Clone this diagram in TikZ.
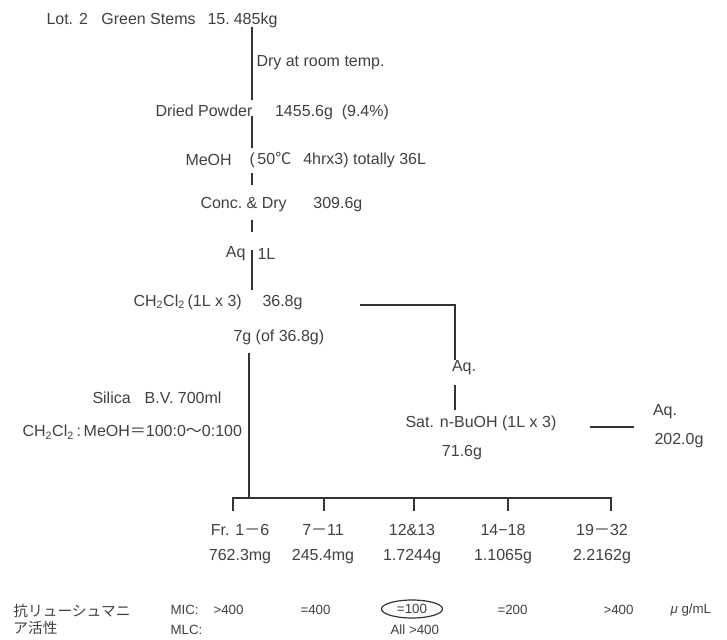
\documentclass[tikz,border=0pt]{standalone}
\usepackage{fontspec}
\setmainfont{Liberation Sans}
\newfontfamily\jpfont{Noto Sans CJK JP}
\usetikzlibrary{shapes.geometric}

\tikzset{every picture/.style={line width=0.75pt}}
\tikzset{
txt/.style={inner sep=0pt, text=black!75, font=\fontsize{12}{14}\selectfont},
small/.style={inner sep=0pt, text=black!75, font=\fontsize{10}{12}\selectfont},
flow/.style={draw=black!80, line width=1.2pt},
tick/.style={draw=black!80, line width=1.2pt}}

\begin{document}
\begin{tikzpicture}[x=0.75pt,y=0.75pt,yscale=-1,xscale=1]
\useasboundingbox (0,0) rectangle (727,639);

% Text Node
\node (lot) [txt, anchor=west] at (46,20) {Lot. 2\hspace{10pt}Green Stems\hspace{9pt}15.\hspace{3pt}485kg};
% Text Node
\node (dry) [txt, anchor=west] at (256,63) {Dry at room temp.};
% Text Node
\node (powder) [txt, anchor=west] at (155,112) {Dried Powder\hspace{17pt}1455.6g\ \ (9.4\%)};
% Text Node
\node (meoh) [txt, anchor=west] at (185,160) {MeOH};
% Text Node
\node (meohcond) [txt, anchor=west] at (249,160) {(\,50{\jpfont ℃}\hspace{9pt}4hrx3)\ totally 36L};
% Text Node
\node (conc) [txt, anchor=west] at (200,205) {Conc.\ \&\ Dry\hspace{20pt}309.6g};
% Text Node
\node (aq) [txt, anchor=east] at (246,254) {Aq};
% Text Node
\node (aqvol) [txt, anchor=west] at (257,254) {1L};
% Text Node
\node (dcm) [txt, anchor=west] at (133,302) {CH\textsubscript{2}Cl\textsubscript{2}\,(1L x 3)};
% Text Node
\node (dcmm) [txt, anchor=west] at (262,303) {36.8g};
% Text Node
\node (part) [txt, anchor=west] at (233,337) {7g (of 36.8g)};
% Text Node
\node (silica) [txt, anchor=west] at (92,398) {Silica\hspace{10.5pt}B.V. 700ml};
% Text Node
\node (eluent) [txt, anchor=west] at (22,432) {CH\textsubscript{2}Cl\textsubscript{2}\,:\,MeOH{\jpfont ＝}100:0{\jpfont ～}0:100};
% Text Node
\node (aqa) [txt] at (464,368) {Aq.};
% Text Node
\node (buoh) [txt, anchor=west] at (405,423) {Sat. n-BuOH (1L x 3)};
% Text Node
\node (buohm) [txt] at (462,453) {71.6g};
% Text Node
\node (aqb) [txt] at (665,412) {Aq.};
% Text Node
\node (aqbm) [txt] at (679,441) {202.0g};

% spine
\coordinate (s1) at (252,27);
\coordinate (s2) at (252,100);
\coordinate (s3) at (252,116);
\coordinate (s4) at (252,148);
\coordinate (s5) at (252,173);
\coordinate (s6) at (252,185);
\coordinate (s7) at (252,220);
\coordinate (s8) at (252,232);
\coordinate (s9) at (252,250);
\coordinate (s10) at (252,290);
\coordinate (s11) at (249,353);
\coordinate (s12) at (249,498);
%Straight Lines
\draw [flow] (s1) -- (s2);
\draw [flow] (s3) -- (s4);
\draw [flow] (s5) -- (s6);
\draw [flow] (s7) -- (s8);
\draw [flow] (s9) -- (s10);
\draw [flow] (s11) -- (s12);

% aqueous branch
\coordinate (b1) at (360,305);
\coordinate (b2) at (455,305);
\coordinate (b3) at (455,385);
\coordinate (b4) at (455,410);
\coordinate (b5) at (590,427);
\coordinate (b6) at (634,427);
\draw [flow] (b1) -- (b2) -- (aqa.north -| b2);
\draw [flow] (b3) -- (b4);
\draw [flow] (b5) -- (b6);

% fraction bar
\coordinate (barl) at (233,498);
\coordinate (barr) at (611,498);
\draw [flow] (barl) -- (barr);

\foreach \x/\fr/\wt [count=\i] in {240/Fr. 1{\jpfont －}6/762.3mg, 323/7{\jpfont －}11/245.4mg, 412/12\&13/1.7244g, 503/14−18/1.1065g, 602/19{\jpfont －}32/2.2162g}{
  \node (fr\i) [txt] at (\x,530) {\fr};
  \node (wt\i) [txt] at (\x,557) {\wt};
}
\foreach \x in {233,324,414,508,611}{
  \draw [tick] (\x,497.4) -- (\x,511);
}

% Text Node
\node (act) [txt, anchor=west, align=left, font=\jpfont\fontsize{11}{12.75}\selectfont] at (13,619.5) {抗リューシュマニ\\ア活性};
% Text Node
\node (mic) [small, anchor=west] at (170,610) {MIC:};
\node (mic1) [small, anchor=west] at (213,610) {>400};
\node (mic2) [small, anchor=west] at (300,610) {=400};
\node (mic3) [small, draw=black!80, line width=0.9pt, ellipse, inner sep=0pt, minimum width=45.75pt, minimum height=13.5pt] at (412,609) {=100};
\node (mic4) [small, anchor=west] at (497,610) {=200};
\node (mic5) [small, anchor=west] at (603,610) {>400};
\node (unit) [small, anchor=west] at (670,610) {{\itshape μ}\ g/mL};
% Text Node
\node (mlc) [small, anchor=west] at (170,630) {MLC:};
\node (mlcall) [small, anchor=west] at (390,630) {All >400};

\end{tikzpicture}
\end{document}
